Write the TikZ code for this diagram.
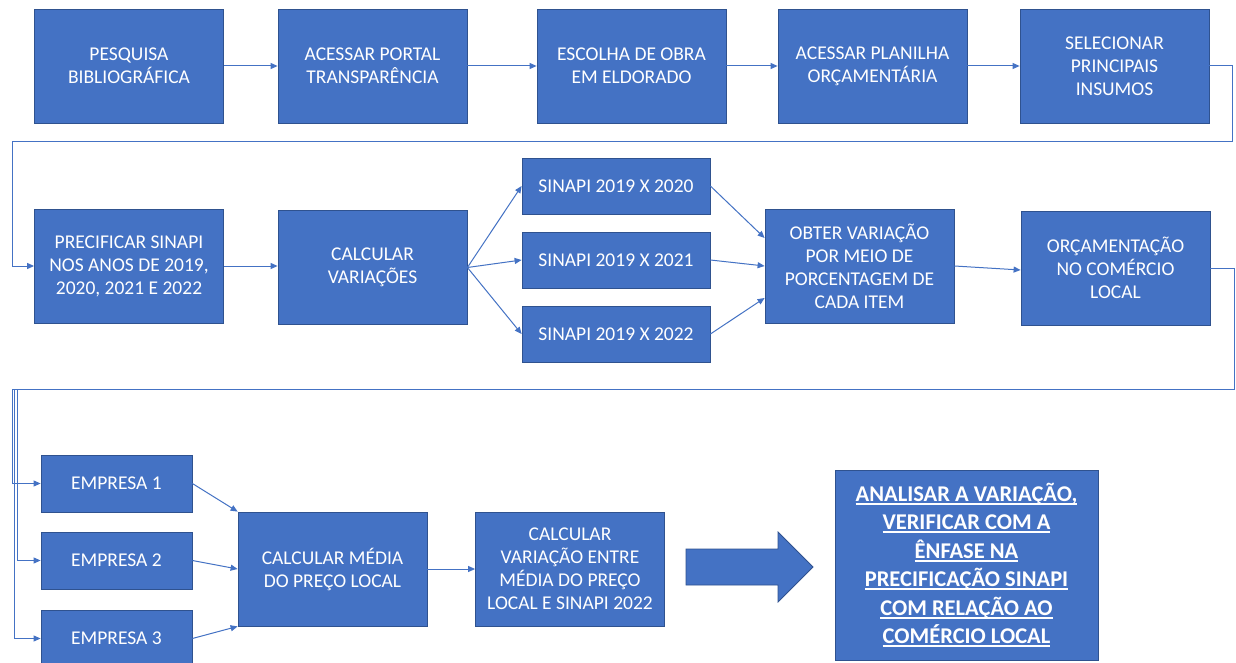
\documentclass[tikz,border=0pt]{standalone}
\usepackage{fontspec}
\setmainfont{Carlito}
\usetikzlibrary{arrows.meta}
\definecolor{boxblue}{HTML}{4472C4}
\definecolor{boxedge}{HTML}{2F528F}
\newcommand\ulline[1]{\setbox0\hbox{#1}\rlap{\rule[-3.5pt]{\wd0}{1.7pt}}\box0}
\begin{document}
\begin{tikzpicture}[x=1pt,y=-1pt,
    box/.style={draw=boxedge,line width=0.8pt,fill=boxblue,text=white,align=center,
      inner sep=0pt,font=\fontsize{19.5}{23}\selectfont},
    bigbox/.style={box,minimum width=189pt,minimum height=114pt},
    smallbox/.style={box,minimum width=188pt,minimum height=56pt},
    empbox/.style={box,minimum width=151pt,minimum height=57pt},
    conn/.style={draw=boxblue,line width=1pt,-{Triangle[length=7pt,width=6pt]}}]
      \path[use as bounding box,fill=white] (0,0) rectangle (1236,663);
      \draw
        (129,66) node[bigbox] (pesq){PESQUISA\\BIBLIOGRÁFICA}
        (372.5,66) node[bigbox] (portal){ACESSAR PORTAL\\TRANSPARÊNCIA}
        (631.5,66) node[bigbox] (obra){ESCOLHA DE OBRA\\EM ELDORADO}
        (872.5,66) node[bigbox] (planilha){ACESSAR PLANILHA\\ORÇAMENTÁRIA}
        (1114.5,66) node[bigbox] (insumos){SELECIONAR\\PRINCIPAIS\\INSUMOS}
        (129,266) node[bigbox] (precif){PRECIFICAR SINAPI\\NOS ANOS DE 2019,\\2020, 2021 E 2022}
        (372.5,267.5) node[bigbox] (calc){CALCULAR\\VARIAÇÕES}
        (616,186) node[smallbox] (s20){SINAPI 2019 X 2020}
        (616,260) node[smallbox] (s21){SINAPI 2019 X 2021}
        (616,334) node[smallbox] (s22){SINAPI 2019 X 2022}
        (859.5,266) node[bigbox] (obter){OBTER VARIAÇÃO\\POR MEIO DE\\PORCENTAGEM DE\\CADA ITEM}
        (1115.5,268) node[bigbox] (orcam){ORÇAMENTAÇÃO\\NO COMÉRCIO\\LOCAL}
        (116.5,483.5) node[empbox] (e1){EMPRESA 1}
        (116.5,560.5) node[empbox] (e2){EMPRESA 2}
        (116.5,638.5) node[empbox] (e3){EMPRESA 3}
        (332.5,569) node[bigbox] (media){CALCULAR MÉDIA\\DO PREÇO LOCAL}
        (570,569) node[bigbox] (var){CALCULAR\\VARIAÇÃO ENTRE\\MÉDIA DO PREÇO\\LOCAL E SINAPI 2022}
        (966.5,565) node[box,minimum width=263pt,minimum height=190pt,
          font=\fontsize{22.5}{28.5}\selectfont\bfseries] (analise){\ulline{ANALISAR A VARIAÇÃO,}\\
          \ulline{VERIFICAR COM A}\\\ulline{ÊNFASE NA}\\\ulline{PRECIFICAÇÃO SINAPI}\\
          \ulline{COM RELAÇÃO AO}\\\ulline{COMÉRCIO LOCAL}};
      % corners of the long return lines
      \coordinate (r1) at (1232,142);
      \coordinate (l1) at (12,142);
      \coordinate (r2) at (1234,389);
      \coordinate (l2) at (12,389);
      \coordinate (l3) at (17,389);
      \coordinate (l4) at (14,389);
      \begin{scope}[conn]
        \draw (pesq) to (portal);
        \draw (portal) to (obra);
        \draw (obra) to (planilha);
        \draw (planilha) to (insumos);
        \draw (insumos.east) -| (r1) -- (l1) |- (precif.west);
        \draw (precif.east) to (precif.east -| calc.west);
        \draw (calc.east) to (s20.west);
        \draw (calc.east) to (s21.west);
        \draw (calc.east) to (s22.west);
        \draw (s20.east) to ([yshift=28pt]obter.west);
        \draw (s21.east) to (obter.west);
        \draw (s22.east) to ([yshift=-32pt]obter.west);
        \draw (obter.east) to ([yshift=-2pt]orcam.west);
        \draw (orcam.east) -| (r2) -- (l2) |- (e1.west);
        \draw (l3) |- (e2.west);
        \draw (l4) |- (e3.west);
        \draw (e1.east) to (media.north west);
        \draw (e2.east) to (media.west);
        \draw (e3.east) to (media.south west);
        \draw (media) to (var);
      \end{scope}
      \filldraw[fill=boxblue,draw=boxedge,line width=0.8pt]
        (686,549) -- (778,549) -- (778,532) -- (813,567) -- (778,602) -- (778,585) -- (686,585) -- cycle;
    \end{tikzpicture}
\end{document}
